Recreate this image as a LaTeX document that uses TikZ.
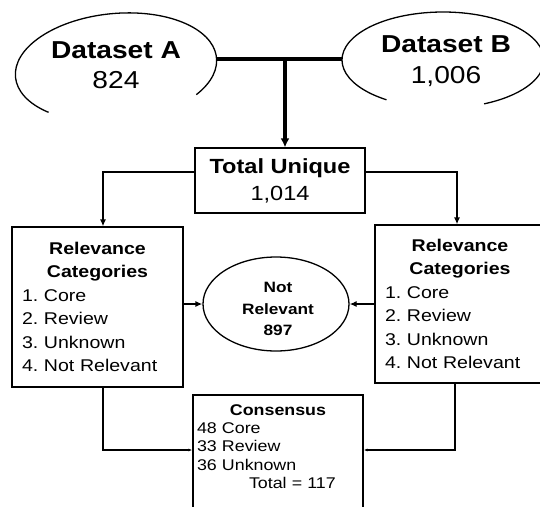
\documentclass[tikz,border=0pt]{standalone}
\usepackage{fontspec}
\setmainfont{Liberation Sans}[FakeStretch=1.15]
\usepackage{tikz}
\usetikzlibrary{arrows.meta, shapes.geometric}

\newcommand{\cathead}[1]{\makebox[\linewidth][c]{\bfseries #1}}
\frenchspacing

\begin{document}
\begin{tikzpicture}[x=1pt, y=-1pt, line width=1.3pt,
    arr/.style={-{Latex[length=7pt, width=6pt]}},
    smallarr/.style={-{Latex[length=4pt, width=3pt]}},
    dsfont/.style={align=center, font=\fontsize{24.5}{30.5}\selectfont},
    catbox/.style={draw, rectangle, align=left, font=\fontsize{17}{23.4}\selectfont}]
\clip (0,0) rectangle (540,506);

\node[dsfont] (dsA) at (116,65) {\textbf{Dataset A}\\824};
\node[dsfont] (dsB) at (446,61) {\textbf{Dataset B}\\1,006};
\draw[rotate around={5.5:(116,67.5)}] (116,67.5) ++(135:101 and 54) arc[start angle=135, end angle=400, x radius=101, y radius=54];
\draw (443,60) ++(124:101 and 48) arc[start angle=124, end angle=426, x radius=101, y radius=48];

\coordinate (aR) at (217,59);
\coordinate (bL) at (342,59);
\coordinate (join) at (285,59);

\node[draw, minimum width=170pt, minimum height=65pt, align=center, font=\fontsize{20.5}{27}\selectfont] (tu) at (280,180.5) {\textbf{Total Unique}\\1,014};

\draw[line width=3.5pt] (aR) -- (bL);
\draw[line width=3.5pt, -{Latex[length=9pt, width=9pt]}] (join) -- (join |- tu.north);

\node[catbox, text width=151pt, inner xsep=10pt, minimum height=160pt] (catA) at (97.5,307)
    {\cathead{Relevance}\\\cathead{Categories}\\1. Core\\2. Review\\3. Unknown\\4. Not Relevant};
\node[catbox, text width=150pt, inner xsep=10pt, minimum height=158pt] (catB) at (460,304)
    {\cathead{Relevance}\\\cathead{Categories}\\1. Core\\2. Review\\3. Unknown\\4. Not Relevant};

\draw[arr] ([yshift=8.5pt]tu.west) -| ([xshift=5.5pt]catA.north);
\draw[arr] ([yshift=8.5pt]tu.east) -| ([xshift=-3pt]catB.north);

\node[draw, ellipse, minimum width=146pt, minimum height=94pt] (nr) at (276,304) {};
\node[align=center, font=\fontsize{15}{21.5}\selectfont\bfseries] (nrtext) at (278,309) {Not\\Relevant\\897};

\draw[arr] (catA.east |- nr) -- (nr.west);
\draw[arr] (catB.west |- nr) -- (nr.east);

\node[draw, minimum width=170pt, minimum height=125pt] (cons) at (278,457.5) {};
\node[anchor=north, text width=162pt, align=left, font=\fontsize{15.5}{18.3}\selectfont] (constext) at ([yshift=-6pt]cons.north)
    {\cathead{Consensus}\\48 Core\\33 Review\\36 Unknown\\\hspace*{52pt}Total = 117};

\draw[smallarr] ([xshift=5.5pt]catA.south) |- ([yshift=7.5pt]cons.west);
\draw[smallarr] ([xshift=-5pt]catB.south) |- ([yshift=7.5pt]cons.east);
\end{tikzpicture}
\end{document}
